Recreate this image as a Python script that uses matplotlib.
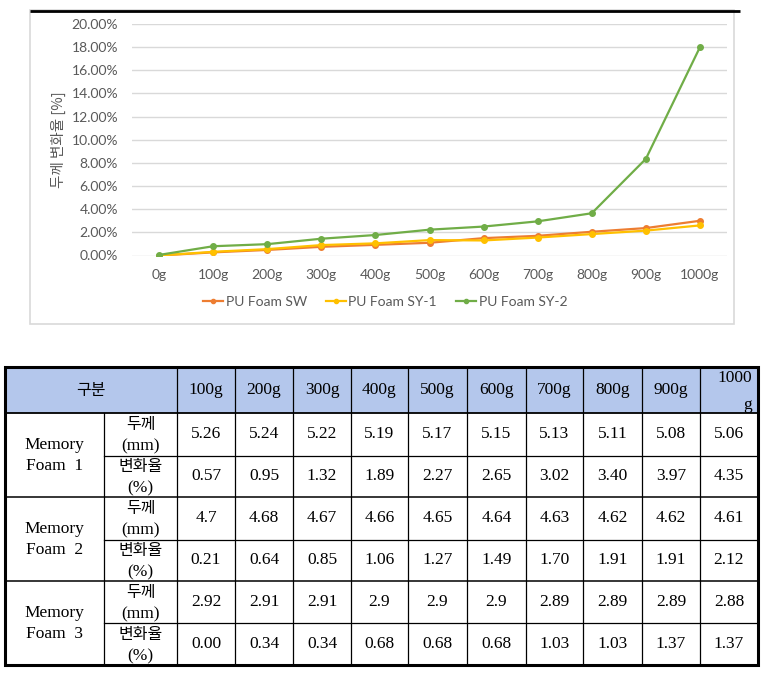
import matplotlib
matplotlib.use("Agg")
import matplotlib.pyplot as plt
from matplotlib.patches import Rectangle
from matplotlib.lines import Line2D
from matplotlib.ticker import FuncFormatter

# ---------------- data ----------------
weights = ['0g', '100g', '200g', '300g', '400g', '500g', '600g', '700g', '800g', '900g', '1000g']
pu_sw = [0.00, 0.27, 0.48, 0.75, 0.92, 1.10, 1.50, 1.70, 2.05, 2.37, 3.00]
pu_sy1 = [0.00, 0.32, 0.55, 0.90, 1.05, 1.33, 1.30, 1.55, 1.85, 2.15, 2.60]
pu_sy2 = [0.05, 0.80, 0.98, 1.45, 1.77, 2.23, 2.50, 2.95, 3.65, 8.35, 18.00]
series_names = ['PU Foam SW', 'PU Foam SY-1', 'PU Foam SY-2']
y_label = '두께 변화율 [%]'

table_header_first = '구분'
table_headers = ['100g', '200g', '300g', '400g', '500g', '600g', '700g', '800g', '900g', '1000\ng']
table_groups = ['Memory\nFoam  1', 'Memory\nFoam  2', 'Memory\nFoam  3']
row_kinds = [('두께', '(mm)'), ('변화율', '(%)')]
mf1_thick = ['5.26', '5.24', '5.22', '5.19', '5.17', '5.15', '5.13', '5.11', '5.08', '5.06']
mf1_rate = ['0.57', '0.95', '1.32', '1.89', '2.27', '2.65', '3.02', '3.40', '3.97', '4.35']
mf2_thick = ['4.7', '4.68', '4.67', '4.66', '4.65', '4.64', '4.63', '4.62', '4.62', '4.61']
mf2_rate = ['0.21', '0.64', '0.85', '1.06', '1.27', '1.49', '1.70', '1.91', '1.91', '2.12']
mf3_thick = ['2.92', '2.91', '2.91', '2.9', '2.9', '2.9', '2.89', '2.89', '2.89', '2.88']
mf3_rate = ['0.00', '0.34', '0.34', '0.68', '0.68', '0.68', '1.03', '1.03', '1.37', '1.37']

# ---------------- figure ----------------
W, H = 777, 673
fig = plt.figure(figsize=(W / 100, H / 100), dpi=100)
fig.patch.set_facecolor('white')

bg = fig.add_axes([0, 0, 1, 1], zorder=0)
bg.set_xlim(0, W)
bg.set_ylim(H, 0)
bg.axis('off')

# chart frame
bg.add_patch(Rectangle((30, 10), 704, 314, facecolor='white', edgecolor='#d9d9d9', lw=1.2))
bg.plot([30, 740], [10.5, 10.5], color='black', lw=2, solid_capstyle='butt')

grey = '#595959'
sans = ['Lato', 'DejaVu Sans']

# ---------------- line chart ----------------
ax = fig.add_axes([132 / W, 1 - 255.5 / H, (727 - 132) / W, (255.5 - 24) / H], zorder=2)
ax.patch.set_alpha(0)
xs = list(range(len(weights)))
colors = ['#ED7D31', '#FFC000', '#70AD47']
for vals, c, name in zip([pu_sw, pu_sy1, pu_sy2], colors, series_names):
    ax.plot(xs, [v / 100 for v in vals], color=c, lw=1.6, marker='o', markersize=4,
            label=name, zorder=3)
ax.set_xlim(-0.5, len(weights) - 0.5)
ax.set_ylim(0, 0.20)
ax.set_yticks([i * 0.02 for i in range(11)])
ax.yaxis.set_major_formatter(FuncFormatter(lambda v, p: f'{v * 100:.2f}%'))
ax.set_xticks(xs)
ax.set_xticklabels(weights)
ax.grid(axis='y', color='#d9d9d9', lw=1)
ax.set_axisbelow(True)
for s in ax.spines.values():
    s.set_visible(False)
ax.tick_params(length=0, colors=grey, labelsize=10)
ax.tick_params(axis='y', pad=10)
ax.tick_params(axis='x', pad=10)
for lab in ax.get_xticklabels() + ax.get_yticklabels():
    lab.set_family(sans)

fig.text(58 / W, 1 - 140 / H, y_label, rotation=90, ha='center', va='center',
         color=grey, fontsize=10.5, family=['Noto Sans CJK KR', 'DejaVu Sans'])

handles = [Line2D([0], [0], color=c, lw=1.6, marker='o', markersize=3) for c in colors]
fig.legend(handles, series_names, loc='center', bbox_to_anchor=(385 / W, 1 - 302 / H), ncol=3,
           frameon=False, handlelength=1.45, handletextpad=0.2, columnspacing=1.35,
           prop={'family': sans, 'size': 10}, labelcolor=grey)

# ---------------- table ----------------
col_edges = [5, 104, 177, 235, 293, 351, 408, 467, 526, 583, 642, 700, 758]
row_edges = [367, 413, 456, 497, 540, 581, 623, 665]
serif = ['Liberation Serif', 'DejaVu Serif']
kr = ['Noto Sans CJK KR', 'DejaVu Sans']
fs = 12.5
fk = 11.5

bg.add_patch(Rectangle((col_edges[0], row_edges[0]), col_edges[-1] - col_edges[0],
                       row_edges[1] - row_edges[0], facecolor='#b4c7ec', edgecolor='none'))

bg.plot([col_edges[0], col_edges[-1]], [row_edges[1]] * 2, color='black', lw=1.3)
for i, y in enumerate(row_edges[2:-1]):
    if i % 2 == 0:
        bg.plot([col_edges[1], col_edges[-1]], [y, y], color='black', lw=0.9)
    else:
        bg.plot([col_edges[0], col_edges[-1]], [y, y], color='black', lw=1.1)
bg.plot([col_edges[1]] * 2, [row_edges[1], row_edges[-1]], color='black', lw=0.9)
for x in col_edges[2:-1]:
    bg.plot([x, x], [row_edges[0], row_edges[-1]], color='black', lw=0.9)
bg.add_patch(Rectangle((col_edges[0], row_edges[0]), col_edges[-1] - col_edges[0],
                       row_edges[-1] - row_edges[0], facecolor='none', edgecolor='black', lw=2.2))

hy = (row_edges[0] + row_edges[1]) / 2
bg.text((col_edges[0] + col_edges[2]) / 2, hy, table_header_first, ha='center', va='center',
        family=kr, fontsize=fk)
for j, h in enumerate(table_headers):
    if '\n' in h:
        top, bot = h.split('\n')
        xr = col_edges[j + 3] - 6
        bg.text(xr, hy - 12, top, ha='right', va='center', family=serif, fontsize=fs)
        bg.text(xr, hy + 15, bot, ha='right', va='center', family=serif, fontsize=fs)
    else:
        bg.text((col_edges[j + 2] + col_edges[j + 3]) / 2, hy, h, ha='center', va='center',
                family=serif, fontsize=fs)

body_rows = [mf1_thick, mf1_rate, mf2_thick, mf2_rate, mf3_thick, mf3_rate]
for g, name in enumerate(table_groups):
    gy = (row_edges[1 + 2 * g] + row_edges[3 + 2 * g]) / 2
    l1, l2 = name.split('\n')
    bg.text((col_edges[0] + col_edges[1]) / 2, gy - 10, l1, ha='center', va='center',
            family=serif, fontsize=fs)
    bg.text((col_edges[0] + col_edges[1]) / 2, gy + 11, l2, ha='center', va='center',
            family=serif, fontsize=fs)
for r, vals in enumerate(body_rows):
    ry = (row_edges[r + 1] + row_edges[r + 2]) / 2
    k1, k2 = row_kinds[r % 2]
    cx = (col_edges[1] + col_edges[2]) / 2
    bg.text(cx, ry - 10, k1, ha='center', va='center', family=kr, fontsize=fk)
    bg.text(cx, ry + 12, k2, ha='center', va='center', family=serif, fontsize=fs)
    for j, v in enumerate(vals):
        bg.text((col_edges[j + 2] + col_edges[j + 3]) / 2, ry, v, ha='center', va='center',
                family=serif, fontsize=fs)

fig.savefig('out.png', dpi=100)
